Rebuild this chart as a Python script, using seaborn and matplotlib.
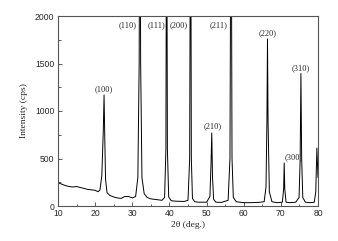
import matplotlib
matplotlib.use("Agg")
import matplotlib.pyplot as plt
import seaborn as sns
import pandas as pd
from matplotlib.ticker import MultipleLocator

two_theta = [10, 11, 12, 13, 14, 15, 16, 17, 18, 19, 20, 20.8, 21.3, 21.8, 22.2, 22.4, 22.6, 22.8, 23.2, 24, 25, 26, 27, 28, 29, 30,
             30.9, 31.5, 31.85, 32.05, 32.25, 32.6, 33.2, 34, 35, 36, 37, 38, 38.7, 39.05, 39.25, 39.45, 39.8, 40.5, 42, 44,
             45.0, 45.45, 45.7, 45.9, 46.2, 46.8, 48, 50, 50.9, 51.2, 51.4, 51.6, 51.9, 52.5, 54, 55.8, 56.3, 56.6, 56.85,
             57.2, 58, 60, 62, 64, 65.5, 66.0, 66.25, 66.4, 66.55, 66.9, 67.6, 69, 70.4, 70.75, 70.9, 71.05, 71.4, 72.3, 74,
             74.9, 75.2, 75.4, 75.6, 75.9, 76.6, 78, 79.0, 79.4, 79.7, 80]
intensity = [245, 230, 215, 205, 200, 205, 195, 185, 175, 170, 165, 150, 170, 320, 800, 1169, 700, 280, 140, 110, 95, 85, 80, 100, 100, 85,
             100, 300, 1500, 4000, 1500, 300, 130, 90, 75, 70, 65, 60, 90, 600, 4000, 600, 95, 55, 50, 48,
             60, 500, 4000, 500, 80, 45, 40, 40, 100, 450, 769, 300, 70, 40, 38, 60, 500, 4000, 500,
             90, 45, 35, 35, 38, 45, 200, 900, 1758, 900, 150, 45, 35, 40, 180, 453, 180, 40, 35, 40,
             90, 500, 1395, 500, 90, 40, 35, 40, 150, 610, 300]

peak_labels = ["(100)", "(110)", "(111)", "(200)", "(210)", "(211)", "(220)", "(300)", "(310)"]
label_x = [22.3, 28.7, 36.4, 42.6, 51.6, 53.3, 66.4, 73.5, 75.4]
label_y = [1232, 1905, 1905, 1905, 842, 1905, 1820, 516, 1453]

x_ticks = [10, 20, 30, 40, 50, 60, 70, 80]
y_ticks = [0, 500, 1000, 1500, 2000]

sns.set_style("ticks")
plt.rcParams["font.family"] = ["Liberation Serif", "DejaVu Serif"]

df = pd.DataFrame({"two_theta": two_theta, "intensity": intensity})

fig = plt.figure(figsize=(3.38, 2.41), dpi=100)
ax = fig.add_axes([58 / 338, 35 / 241, 260 / 338, 190 / 241])
sns.lineplot(data=df, x="two_theta", y="intensity", ax=ax, color="black", linewidth=0.7, sort=False)

ax.set_xlim(10, 80)
ax.set_ylim(0, 2000)
ax.set_xticks(x_ticks)
ax.set_yticks(y_ticks)
ax.xaxis.set_minor_locator(MultipleLocator(5))
ax.yaxis.set_minor_locator(MultipleLocator(250))
ax.tick_params(which="both", direction="in", top=False, right=False, width=0.6, color="#444444")
ax.tick_params(which="major", length=3)
ax.tick_params(which="minor", length=1.8)
for lab in ax.get_xticklabels() + ax.get_yticklabels():
    lab.set_family(["Liberation Sans", "DejaVu Sans"])
    lab.set_fontsize(6.2)
ax.tick_params(axis="x", pad=2.5)
ax.tick_params(axis="y", pad=2.5)
for s in ax.spines.values():
    s.set_linewidth(0.8)
    s.set_color("#555555")

ax.set_xlabel("2θ (deg.)", fontsize=6.8, labelpad=2)
ax.set_ylabel("Intensity (cps)", fontsize=6.8, labelpad=5)

for t, x, y in zip(peak_labels, label_x, label_y):
    ax.text(x, y, t, fontsize=6, ha="center", va="center")

fig.savefig("out.png", dpi=100)
